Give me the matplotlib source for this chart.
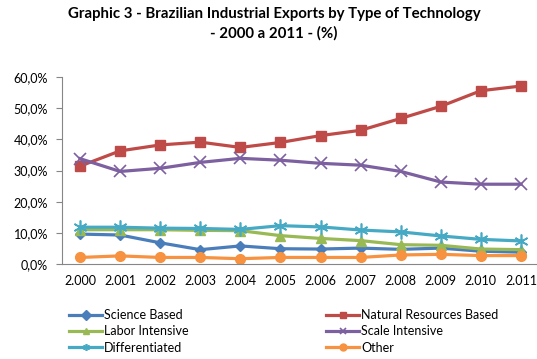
import matplotlib.pyplot as plt
from matplotlib.ticker import FuncFormatter

years = ['2.000', '2.001', '2.002', '2.003', '2.004', '2.005',
         '2.006', '2.007', '2.008', '2.009', '2.010', '2.011']

science = [9.6, 9.3, 6.8, 4.6, 5.8, 4.9, 4.8, 5.1, 4.7, 5.1, 4.1, 3.8]
natural = [31.4, 36.3, 38.2, 39.1, 37.4, 39.0, 41.2, 42.9, 46.7, 50.6, 55.6, 57.1]
labor = [11.0, 11.0, 11.0, 10.8, 10.7, 9.1, 8.2, 7.5, 6.2, 6.0, 4.8, 4.6]
scale = [33.8, 29.7, 30.7, 32.6, 33.9, 33.3, 32.3, 31.7, 29.7, 26.3, 25.6, 25.6]
differentiated = [11.8, 11.8, 11.5, 11.4, 11.1, 12.3, 11.9, 10.9, 10.3, 9.0, 7.9, 7.4]
other = [2.1, 2.6, 2.1, 2.1, 1.7, 2.1, 2.1, 2.1, 2.9, 3.1, 2.7, 2.7]

plt.rcParams['font.family'] = ['Lato', 'DejaVu Sans']

fig = plt.figure(figsize=(5.37, 3.59), dpi=100)
ax = fig.add_axes([62 / 537, 1 - 264 / 359, 475 / 537, (264 - 77) / 359])

x = list(range(len(years)))
series = [
    ('Science Based', science, '#4a7ebb', 'D', 5),
    ('Labor Intensive', labor, '#98b954', '^', 7),
    ('Differentiated', differentiated, '#46aac5', (6, 2, 0), 10),
    ('Natural Resources Based', natural, '#be4b48', 's', 7),
    ('Scale Intensive', scale, '#7d60a0', 'x', 8),
    ('Other', other, '#f69240', 'o', 7),
]
handles = {}
for name, vals, col, mk, ms in series:
    h, = ax.plot(x, vals, color=col, lw=2.3, marker=mk, markersize=ms,
                 markeredgewidth=1 if mk not in ('x', (6, 2, 0)) else 1.2,
                 markerfacecolor=col, markeredgecolor=col, label=name)
    handles[name] = h

ax.set_xlim(-0.45, 11.4)
ax.set_ylim(0, 60)
ax.set_yticks(range(0, 61, 10))
ax.yaxis.set_major_formatter(FuncFormatter(lambda v, p: f'{v:.1f}%'.replace('.', ',')))
ax.set_xticks(x)
ax.set_xticklabels(years)
ax.tick_params(axis='x', length=0, pad=8, labelsize=9)
ax.tick_params(axis='y', length=4, color='#868686', labelsize=9, pad=6)
for s in ('top', 'right'):
    ax.spines[s].set_visible(False)
for s in ('left', 'bottom'):
    ax.spines[s].set_color('#868686')

fig.text(0.51, 0.96, 'Graphic 3 - Brazilian Industrial Exports by Type of Technology',
         ha='center', va='center', fontsize=10.8, fontweight='bold')
fig.text(0.51, 0.908, '- 2000 a 2011 - (%)',
         ha='center', va='center', fontsize=10.8, fontweight='bold')

order = ['Science Based', 'Labor Intensive', 'Differentiated',
         'Natural Resources Based', 'Scale Intensive', 'Other']
leg = fig.legend([handles[n] for n in order], order, ncol=2,
                 loc='upper left', bbox_to_anchor=(63 / 537, 1 - 303 / 359),
                 frameon=False, fontsize=9, handlelength=2.6, handletextpad=0.2,
                 columnspacing=11.0, labelspacing=0.33, borderpad=0)
for lh in leg.legend_handles:
    lh.set_markersize(5)

fig.savefig('out.png', dpi=100)
